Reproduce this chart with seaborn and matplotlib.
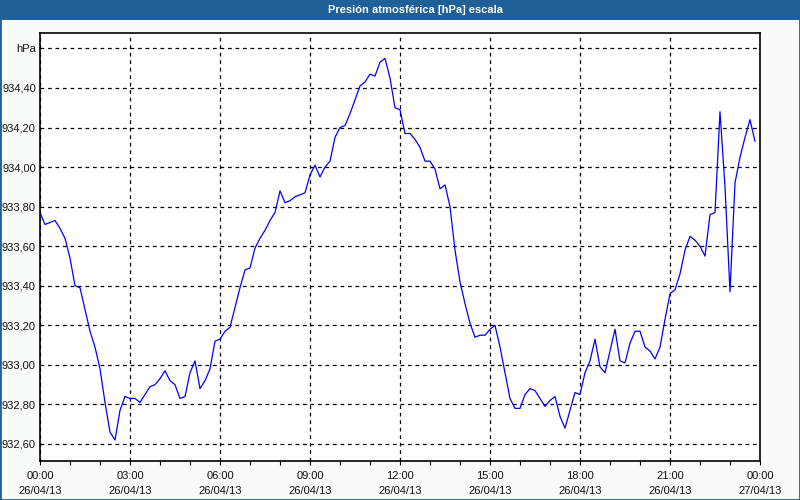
import pandas as pd
import matplotlib
matplotlib.use("Agg")
import matplotlib.pyplot as plt
import matplotlib.dates as mdates
from matplotlib.patches import Rectangle
from matplotlib.ticker import FuncFormatter, MultipleLocator
import seaborn as sns

# presion leida cada 10 minutos, 26/04/13
presion = [
    933.77, 933.71, 933.72, 933.73, 933.69, 933.64,
    933.54, 933.40, 933.39, 933.28, 933.17, 933.09,
    932.98, 932.81, 932.66, 932.62, 932.77, 932.84,
    932.83, 932.83, 932.81, 932.85, 932.89, 932.90,
    932.93, 932.97, 932.92, 932.90, 932.83, 932.84,
    932.96, 933.02, 932.88, 932.92, 932.98, 933.12,
    933.13, 933.17, 933.19, 933.29, 933.39, 933.48,
    933.49, 933.59, 933.64, 933.68, 933.73, 933.77,
    933.88, 933.82, 933.83, 933.85, 933.86, 933.87,
    933.96, 934.01, 933.95, 934.00, 934.03, 934.15,
    934.20, 934.21, 934.27, 934.34, 934.41, 934.43,
    934.47, 934.46, 934.53, 934.55, 934.45, 934.30,
    934.29, 934.17, 934.17, 934.14, 934.10, 934.03,
    934.03, 933.99, 933.89, 933.91, 933.80, 933.58,
    933.42, 933.31, 933.21, 933.14, 933.15, 933.15,
    933.18, 933.20, 933.09, 932.96, 932.83, 932.78,
    932.78, 932.85, 932.88, 932.87, 932.83, 932.79,
    932.82, 932.84, 932.74, 932.68, 932.77, 932.86,
    932.85, 932.96, 933.02, 933.13, 932.99, 932.96,
    933.07, 933.18, 933.02, 933.01, 933.11, 933.17,
    933.17, 933.09, 933.07, 933.03, 933.09, 933.23,
    933.36, 933.38, 933.46, 933.58, 933.65, 933.63,
    933.60, 933.55, 933.76, 933.77, 934.28, 933.90,
    933.37, 933.92, 934.05, 934.15, 934.24, 934.13,
]
inicio = "2013-04-26 00:00"
fin = "2013-04-27 00:00"
titulo = "Presión atmosférica [hPa] escala"
unidad = "hPa"

df = pd.DataFrame({
    "fecha": pd.date_range(inicio, periods=len(presion), freq="10min"),
    "presion": presion,
})

sns.set_style("white")
plt.rcParams["font.family"] = ["Liberation Sans", "DejaVu Sans"]

fig = plt.figure(figsize=(8, 5), dpi=100, facecolor="#f9fbf9")
ax = fig.add_axes([0.05, 0.078, 0.90, 0.856])
ax.set_facecolor("white")

sns.lineplot(data=df, x="fecha", y="presion", ax=ax, color="#0000ff", linewidth=0.9)

ax.set_xlim(pd.Timestamp(inicio), pd.Timestamp(fin))
ax.set_ylim(932.514, 934.678)

ax.xaxis.set_major_locator(mdates.HourLocator(interval=3))
ax.xaxis.set_minor_locator(mdates.HourLocator())
ax.xaxis.set_major_formatter(mdates.DateFormatter("%H:%M\n%d/%m/%y"))
ax.yaxis.set_major_locator(MultipleLocator(0.2))


def fmt_y(v, pos):
    if abs(v - 934.6) < 0.01:
        return unidad
    return f"{v:.2f}".replace(".", ",")


ax.yaxis.set_major_formatter(FuncFormatter(fmt_y))

ax.grid(True, which="major", color="black", linestyle=(0, (3, 3)), linewidth=0.9)
ax.tick_params(axis="x", which="both", direction="out", length=3, width=0.8,
               color="black", bottom=True, labelsize=8, pad=4, labelcolor="#111111")
ax.tick_params(axis="y", length=0, labelsize=8, pad=3, labelcolor="#111111")
for lbl in ax.get_xticklabels():
    lbl.set_linespacing(1.6)
for sp in ax.spines.values():
    sp.set_color("black")
    sp.set_linewidth(1.2)
ax.set_xlabel("")
ax.set_ylabel("")

# barra de titulo
fig.patches.append(Rectangle((0, 0.96), 1, 0.04, transform=fig.transFigure,
                             facecolor="#1e6097", edgecolor="none", zorder=0))
fig.patches.append(Rectangle((0, 0), 1, 1, transform=fig.transFigure,
                             fill=False, edgecolor="#1e6097", linewidth=2, zorder=5))
fig.text(0.519, 0.980, titulo, color="white", fontsize=8, fontweight="bold",
         ha="center", va="center")

fig.savefig("out.png", dpi=100, facecolor=fig.get_facecolor())
